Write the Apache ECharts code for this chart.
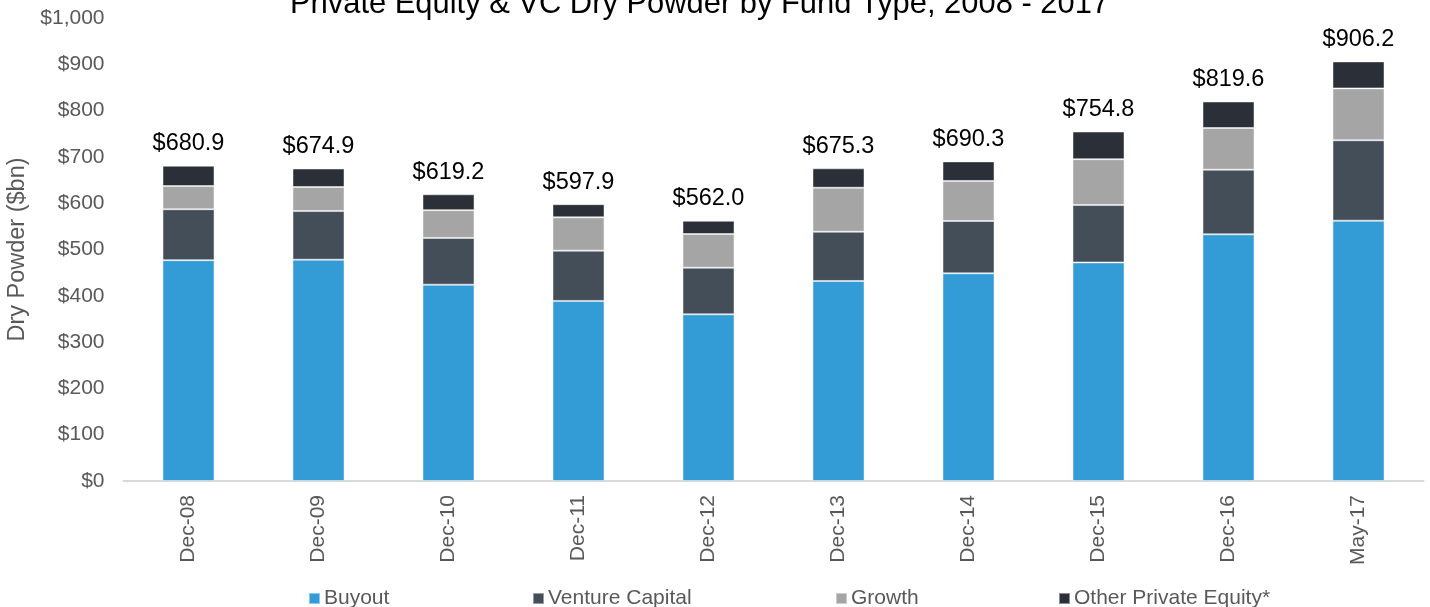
<!DOCTYPE html>
<html>
<head>
<meta charset="utf-8">
<script src="https://cdn.jsdelivr.net/npm/echarts@6/dist/echarts.min.js"></script>
<style>html,body{margin:0;padding:0;background:#fff;}#c{width:1430px;height:607px;}</style>
</head>
<body>
<div id="c"></div>
<script>
const categories = ['Dec-08','Dec-09','Dec-10','Dec-11','Dec-12','Dec-13','Dec-14','Dec-15','Dec-16','May-17'];
const buyout = [477, 478, 424, 389, 360, 432, 448.6, 472, 532.8, 562.2];
const ventureCapital = [110, 105, 101, 108.5, 100.7, 106.4, 113, 124, 139.6, 173.7];
const growth = [50, 52, 60, 72, 72.8, 95.1, 86.4, 99, 90, 112.1];
const totals = [680.9, 674.9, 619.2, 597.9, 562.0, 675.3, 690.3, 754.8, 819.6, 906.2];
const otherPE = totals.map((t, i) => +(t - buyout[i] - ventureCapital[i] - growth[i]).toFixed(1));
const yTicks = [0, 100, 200, 300, 400, 500, 600, 700, 800, 900, 1000];

const FONT = 'Liberation Sans, Arial, sans-serif';
const colors = { 'Buyout': '#339bd6', 'Venture Capital': '#444e59', 'Growth': '#a5a5a5', 'Other Private Equity*': '#2b3038' };

function seg(name, data, extra) {
  return Object.assign({
    name: name, type: 'bar', stack: 'total', data: data, barWidth: '40%',
    itemStyle: { color: colors[name], borderColor: 'rgba(255,255,255,0.45)', borderWidth: 1 }
  }, extra || {});
}

const legendPos = [['Buyout', 308], ['Venture Capital', 532], ['Growth', 835], ['Other Private Equity*', 1058]];

const chart = echarts.init(document.getElementById('c'));
chart.setOption({
  animation: false,
  backgroundColor: '#ffffff',
  title: {
    text: 'Private Equity & VC Dry Powder by Fund Type, 2008 - 2017',
    left: 285, top: -16,
    textStyle: { fontFamily: FONT, fontSize: 30.9, fontWeight: 'normal', color: '#000' }
  },
  legend: legendPos.map(([n, x]) => ({
    data: [n], left: x, top: 588, itemWidth: 11, itemHeight: 11, itemGap: 5,
    icon: 'rect', textStyle: { fontFamily: FONT, fontSize: 21, color: '#595959', padding: [0,0,0,-1] }, padding: 0
  })),
  grid: { left: 123.5, right: 6.5, top: 18, bottom: 126, containLabel: false, outerBoundsMode: 'none' },
  xAxis: {
    type: 'category', data: categories,
    axisLine: { lineStyle: { color: '#d9d9d9', width: 2 } },
    axisTick: { show: false },
    axisLabel: { rotate: 90, margin: 14, fontFamily: FONT, fontSize: 21, color: '#595959' }
  },
  yAxis: {
    type: 'value', min: 0, max: 1000, interval: 100,
    name: 'Dry Powder ($bn)', nameLocation: 'middle', nameGap: 89, nameRotate: 90,
    nameTextStyle: { fontFamily: FONT, fontSize: 23.5, color: '#595959' },
    splitLine: { show: false }, axisLine: { show: false }, axisTick: { show: false },
    axisLabel: {
      margin: 19, fontFamily: FONT, fontSize: 21, color: '#595959',
      formatter: v => yTicks.includes(v) ? '$' + v.toLocaleString('en-US') : ''
    }
  },
  series: [
    seg('Buyout', buyout),
    seg('Venture Capital', ventureCapital),
    seg('Growth', growth),
    seg('Other Private Equity*', otherPE, {
      label: {
        show: true, position: 'top', distance: 10,
        fontFamily: FONT, fontSize: 23.5, color: '#000',
        formatter: p => '$' + totals[p.dataIndex].toFixed(1)
      }
    })
  ]
});
</script>
</body>
</html>
